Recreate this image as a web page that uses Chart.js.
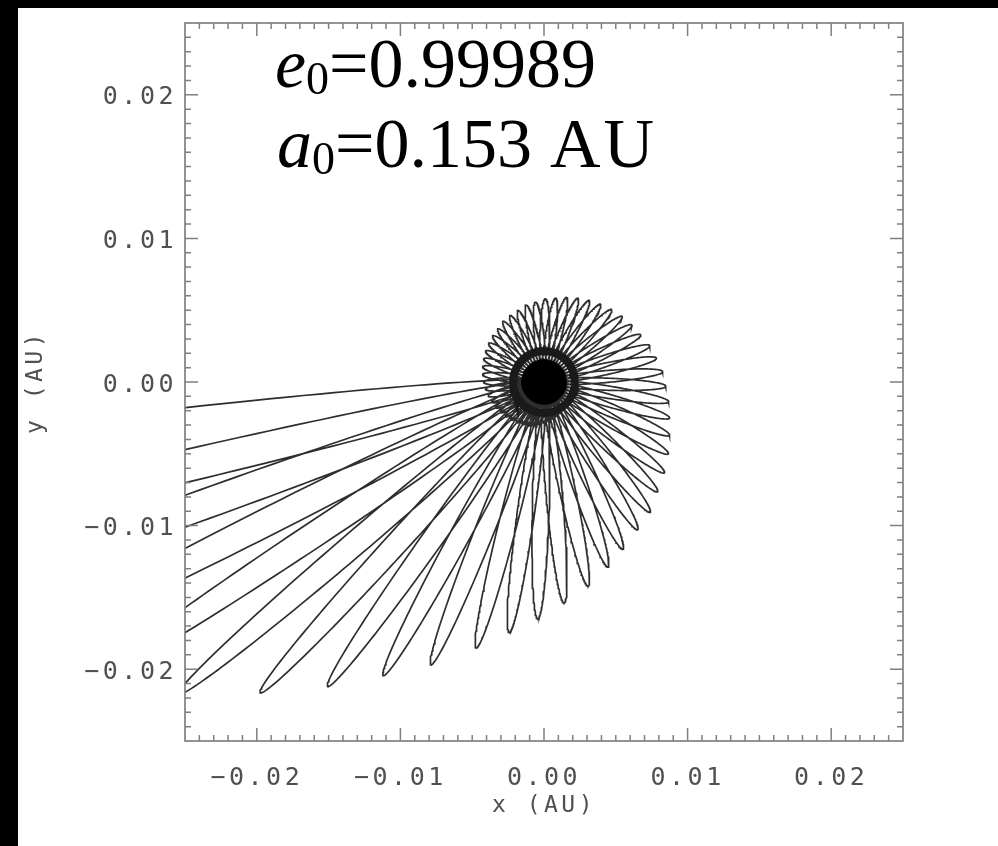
<!DOCTYPE html>
<html>
<head>
<meta charset="utf-8">
<script src="https://cdn.jsdelivr.net/npm/chart.js@4.4.1/dist/chart.umd.min.js"></script>
<style>
  html, body { margin: 0; padding: 0; background: #000; width: 998px; height: 846px; overflow: hidden; }
  #wrap { position: absolute; left: 18px; top: 8px; width: 980px; height: 838px; background: #fff; }
  canvas { display: block; }
</style>
</head>
<body>
<div id="wrap"><canvas id="c" width="980" height="838"></canvas></div>
<script>
// ---- data ----
// orientation of each loop's apocentre (degrees, counter-clockwise from +x)
const apoAngleDeg = [
  186.8, 193.2, 199.8, 206.8, 213.6, 220.5, 227.6, 234.6, 241.3, 248.2,
  255.7, 262.1, 268.5, 275.2, 282.2, 289.1, 295.3, 302.4, 309.2, 316.0,
  323, 330, 337, 344, 351, 358, 365, 372, 379, 386,
  393, 400, 407, 414, 421, 428, 435, 442, 449, 456,
  463, 470, 477, 484, 491, 498, 505, 512, 519, 526,
  533, 540, 547, 554, 561, 568, 575, 582, 589, 596,
  603, 610, 617, 624, 631, 638, 645, 652, 659
];
// apocentre distance of each loop (AU)
const apoDistAU = [
  0.076, 0.062, 0.052, 0.044, 0.038, 0.0335, 0.0293, 0.0260, 0.0233, 0.0212,
  0.0191, 0.0176, 0.0165, 0.01545, 0.01455, 0.01364, 0.01288, 0.01218, 0.0117, 0.0110,
  0.0105, 0.0100, 0.0095, 0.0091, 0.0088, 0.0085, 0.0083, 0.0080, 0.0078, 0.0075,
  0.0073, 0.0071, 0.0069, 0.0067, 0.0065, 0.0063, 0.0061, 0.0059, 0.0058, 0.0056,
  0.0055, 0.0053, 0.0052, 0.0051, 0.0049, 0.0048, 0.0047, 0.0046, 0.0045, 0.0044,
  0.0043, 0.0042, 0.0041, 0.0040, 0.0039, 0.0038, 0.0037, 0.0036, 0.0035, 0.0034,
  0.0033, 0.0032, 0.0031, 0.0030, 0.0029, 0.0028, 0.0027, 0.0026, 0.0025
];
// pericentre distance (AU), common to all loops
const pericentreAU = 0.000021;
// central dark core and surrounding dense ring (AU)
const coreRadiusAU = 0.00155;
const ringRadiusAU = 0.00215;
// axis ticks
const tickValues = [-0.02, -0.01, 0.00, 0.01, 0.02];
const tickLabels = ['\u22120.02', '\u22120.01', '0.00', '0.01', '0.02'];
const axisMin = -0.025, axisMax = 0.025;
const xTitle = 'x (AU)';
const yTitle = 'y (AU)';
const e0Value = '0.99989';
const a0Value = '0.153';
const a0Unit = 'AU';

// ---- build orbit track (Keplerian ellipses, focus at the origin) ----
function buildOrbit() {
  const pts = [];
  const N = 180;
  for (let i = 0; i < apoAngleDeg.length; i++) {
    const Q = apoDistAU[i], q = pericentreAU;
    const a = (Q + q) / 2, e = (Q - q) / (Q + q);
    const b = a * Math.sqrt(1 - e * e);
    const phi = apoAngleDeg[i] * Math.PI / 180;
    const ux = Math.cos(phi), uy = Math.sin(phi);
    const wx = -uy, wy = ux;
    for (let k = 0; k <= N; k++) {
      const E = 2 * Math.PI * k / N;
      const X = a * (Math.cos(E) - e);  // along periapsis direction (-u)
      const Y = b * Math.sin(E);
      pts.push({ x: -X * ux + Y * wx, y: -X * uy + Y * wy });
    }
  }
  return pts;
}
function circle(r) {
  const pts = [];
  for (let k = 0; k <= 96; k++) {
    const t = 2 * Math.PI * k / 96;
    pts.push({ x: r * Math.cos(t), y: r * Math.sin(t) });
  }
  return pts;
}
const orbit = buildOrbit();

const tickFont = { family: '"DejaVu Sans Mono", monospace', size: 25 };
const titleFont = { family: '"DejaVu Sans Mono", monospace', size: 23 };
const grey = '#505050';

function noPad(s) { s.paddingTop = 0; s.paddingBottom = 0; s.paddingLeft = 0; s.paddingRight = 0; }

const framePlugin = {
  id: 'frame',
  beforeDraw(chart) {
    chart.ctx.letterSpacing = '3.5px';
  },
  afterDraw(chart) {
    const ctx = chart.ctx;
    const { left, right, top, bottom } = chart.chartArea;
    const xs = chart.scales.x, ys = chart.scales.y;
    ctx.save();
    ctx.letterSpacing = '0px';
    ctx.strokeStyle = '#808080';
    ctx.lineWidth = 1.7;
    ctx.strokeRect(left, top, right - left, bottom - top);
    ctx.lineWidth = 1.5;
    ctx.beginPath();
    for (let k = -24; k <= 24; k++) {
      const v = k / 1000;
      const len = (k % 10 === 0) ? 13 : 6;
      const px = xs.getPixelForValue(v);
      ctx.moveTo(px, bottom); ctx.lineTo(px, bottom - len);
      ctx.moveTo(px, top); ctx.lineTo(px, top + len);
      const py = ys.getPixelForValue(v);
      ctx.moveTo(left, py); ctx.lineTo(left + len, py);
      ctx.moveTo(right, py); ctx.lineTo(right - len, py);
    }
    ctx.stroke();

    // annotation
    ctx.fillStyle = '#000';
    ctx.textBaseline = 'alphabetic';
    ctx.textAlign = 'left';
    const big = '70px "Liberation Serif", "Times New Roman", serif';
    const ital = 'italic 70px "Liberation Serif", "Times New Roman", serif';
    const sub = '46px "Liberation Serif", "Times New Roman", serif';
    function line(sym, val, unit, x, y) {
      ctx.font = ital; ctx.fillText(sym, x, y); x += ctx.measureText(sym).width;
      ctx.font = sub; ctx.fillText('0', x, y + 7); x += ctx.measureText('0').width;
      ctx.font = big; const t = '=' + val; ctx.fillText(t, x, y); x += ctx.measureText(t).width;
      if (unit) {
        x += 18;
        ctx.letterSpacing = '3px';
        ctx.fillText(unit, x, y);
        ctx.letterSpacing = '0px';
      }
    }
    line('e', e0Value, '', left + 90, top + 64);
    line('a', a0Value, a0Unit, left + 92, top + 144);
    ctx.restore();
  }
};

new Chart(document.getElementById('c'), {
  type: 'scatter',
  data: {
    datasets: [
      {
        data: orbit,
        order: 2,
        showLine: true,
        borderColor: '#2e2e2e',
        borderWidth: 1.7,
        pointRadius: 0,
        fill: false,
        tension: 0
      },
      {
        data: circle(ringRadiusAU),
        order: 1,
        showLine: true,
        borderColor: '#1a1a1a',
        borderWidth: 8,
        pointRadius: 0,
        fill: false
      },
      {
        data: circle(coreRadiusAU),
        order: 0,
        showLine: true,
        borderColor: '#000',
        borderWidth: 1,
        backgroundColor: '#000',
        pointRadius: 0,
        fill: 'shape'
      }
    ]
  },
  options: {
    responsive: false,
    animation: false,
    events: [],
    parsing: false,
    layout: { padding: { top: 15, right: 95, bottom: 0, left: 0 } },
    plugins: { legend: { display: false }, tooltip: { enabled: false } },
    scales: {
      x: {
        type: 'linear', min: axisMin, max: axisMax,
        grid: { display: false, drawTicks: false },
        border: { display: false },
        afterBuildTicks(s) { s.ticks = tickValues.map(v => ({ value: v })); },
        afterFit(s) { s.height = 105; noPad(s); },
        ticks: {
          color: grey, font: tickFont, padding: 22, maxRotation: 0,
          callback(v) { const i = tickValues.indexOf(v); return i >= 0 ? tickLabels[i] : ''; }
        },
        title: { display: true, text: xTitle, color: grey, font: titleFont, padding: { top: 4, bottom: 26 } }
      },
      y: {
        type: 'linear', min: axisMin, max: axisMax,
        grid: { display: false, drawTicks: false },
        border: { display: false },
        afterBuildTicks(s) { s.ticks = tickValues.map(v => ({ value: v })); },
        afterFit(s) { s.width = 167; noPad(s); },
        ticks: {
          color: grey, font: tickFont, padding: 8, labelOffset: 3,
          callback(v) { const i = tickValues.indexOf(v); return i >= 0 ? tickLabels[i] : ''; }
        },
        title: { display: true, text: yTitle, color: grey, font: titleFont, padding: { top: 4, bottom: 26 } }
      }
    }
  },
  plugins: [framePlugin]
});
</script>
</body>
</html>
